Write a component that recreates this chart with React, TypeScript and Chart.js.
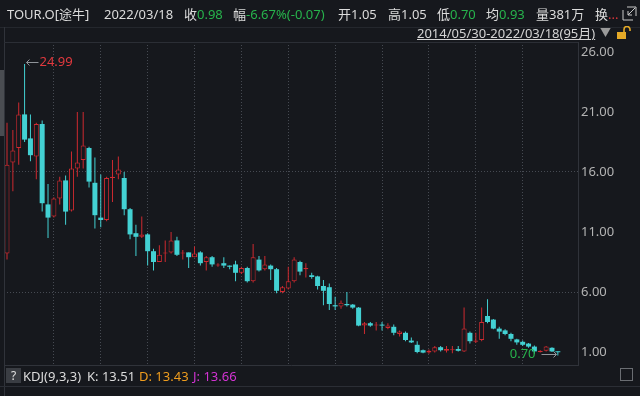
import React, { useEffect, useRef } from "react";
import { Chart, registerables } from "chart.js";

Chart.register(...registerables);

const BG = "#16181d";
const UP = "#cf2a30";
const DOWN = "#43d1d3";
const GRID = "#464a52";
const AXIS = "#30333a";
const GREEN = "#27b34c";
const TEXT = "#dcdcdc";
const FONT = '"Noto Sans", "Noto Sans CJK SC", sans-serif';

// Monthly candles 2014/05 .. 2022/03 (95 months)
const opens = [
  9.2, 16.8, 18.0, 20.8, 18.8, 17.3, 20.0, 13.3, 12.3, 13.8,
  15.3, 12.8, 16.3, 17.0, 18.0, 15.1, 12.2, 12.0, 15.5, 15.8,
  15.5, 12.9, 10.9, 10.6, 10.8, 9.4, 8.5, 9.2, 9.3, 10.3,
  9.2, 9.3, 8.9, 9.3, 8.5, 8.9, 8.2, 8.4, 8.2, 8.3,
  7.6, 8.0, 6.9, 8.7, 7.9, 8.2, 7.9, 6.0, 6.3, 6.9,
  8.5, 7.9, 7.4, 7.3, 6.5, 6.4, 4.9, 4.8, 5.0, 4.95,
  4.7, 3.2, 3.4, 3.2, 3.25, 3.0, 3.1, 2.5, 2.6, 1.95,
  1.6, 1.15, 0.95, 1.05, 1.4, 1.1, 1.15, 1.25, 1.05, 2.6,
  1.85, 2.0, 4.0, 3.7, 2.95, 2.8, 2.5, 2.05, 1.85, 1.7,
  1.45, 1.0, 1.1, 1.35, 1.05,
];
const highs = [
  20.1, 19.5, 21.8, 24.99, 20.8, 20.1, 20.3, 15.0, 13.9, 15.6,
  15.7, 17.7, 21.0, 21.0, 18.1, 17.2, 15.8, 15.6, 17.0, 17.3,
  16.0, 13.0, 11.6, 12.3, 10.9, 9.6, 9.9, 10.3, 11.0, 10.6,
  9.5, 9.3, 9.8, 9.4, 9.0, 9.0, 8.4, 8.9, 8.2, 8.6,
  8.1, 8.1, 10.0, 9.0, 9.0, 8.3, 8.0, 6.5, 8.1, 8.9,
  8.6, 8.4, 7.6, 7.35, 7.0, 6.7, 5.6, 5.3, 6.0, 5.0,
  4.75, 3.5, 3.5, 3.5, 3.5, 3.4, 3.3, 2.8, 2.7, 2.2,
  1.9, 1.2, 1.2, 1.5, 1.5, 1.5, 1.5, 1.5, 4.7, 2.7,
  2.6, 4.7, 5.4, 3.75, 3.1, 2.9, 2.6, 2.1, 1.95, 1.75,
  1.55, 1.15, 1.5, 1.4, 1.05,
];
const lows = [
  8.7, 14.4, 16.6, 18.5, 16.9, 15.4, 12.7, 10.5, 12.2, 13.3,
  11.6, 12.7, 15.6, 16.3, 14.7, 11.3, 11.4, 11.9, 13.5, 15.4,
  12.4, 10.4, 9.0, 10.5, 8.2, 7.8, 8.5, 8.5, 9.2, 9.0,
  8.7, 8.0, 8.9, 8.2, 7.8, 8.1, 8.1, 8.0, 7.9, 6.9,
  7.5, 6.8, 6.8, 7.7, 7.8, 7.0, 5.9, 5.9, 6.2, 6.8,
  7.4, 7.2, 7.1, 6.2, 4.9, 4.5, 4.5, 4.6, 4.8, 4.6,
  3.15, 2.5, 3.1, 2.8, 2.8, 2.9, 2.4, 2.3, 1.9, 1.75,
  0.9, 0.9, 0.85, 0.95, 1.05, 0.95, 0.9, 1.05, 1.0, 1.7,
  1.75, 1.9, 3.4, 2.9, 2.1, 2.4, 1.9, 1.6, 1.5, 1.35,
  0.85, 0.95, 1.05, 1.0, 0.70,
];
const closes = [
  16.6, 17.8, 20.8, 18.7, 17.4, 20.0, 13.4, 12.2, 13.8, 15.3,
  12.7, 16.3, 16.8, 18.2, 15.2, 12.4, 12.0, 15.5, 15.6, 16.2,
  12.9, 10.8, 10.6, 10.8, 9.4, 8.5, 9.1, 9.3, 10.3, 9.1,
  9.3, 8.9, 9.2, 8.4, 8.9, 8.3, 8.3, 8.2, 8.1, 7.6,
  8.0, 6.9, 8.9, 7.8, 8.3, 7.9, 6.1, 6.4, 6.9, 8.7,
  7.7, 8.0, 7.25, 6.5, 6.1, 5.0, 4.8, 5.1, 4.9, 4.7,
  3.2, 3.4, 3.2, 3.25, 3.2, 3.2, 2.6, 2.7, 2.0, 1.8,
  1.0, 0.95, 1.1, 1.4, 1.15, 1.25, 1.2, 1.1, 2.95, 1.9,
  1.95, 3.5, 3.5, 2.95, 2.7, 2.5, 2.1, 1.8, 1.6, 1.45,
  1.05, 1.1, 1.45, 1.05, 0.98,
];

const priceTicks = [1, 6, 11, 16, 21, 26];
const priceGridLines = [6, 16];
const monthGridLines = [8, 16, 24, 32, 40, 48, 56, 64, 72, 80, 88];

const isUp = (i: number) => closes[i] > opens[i];

const markerPlugin = {
  id: "hiLoMarkers",
  afterDatasetsDraw(chart: any) {
    const { ctx, scales } = chart;
    const xs = scales.x;
    const ys = scales.y;
    let hi = 0;
    let lo = 0;
    highs.forEach((v, i) => {
      if (v > highs[hi]) hi = i;
    });
    lows.forEach((v, i) => {
      if (v < lows[lo]) lo = i;
    });
    ctx.save();
    ctx.font = `13px ${FONT}`;
    ctx.textBaseline = "middle";
    // high marker
    const hx = Math.round(xs.getPixelForValue(hi)) + 0.5;
    const hy = Math.round(ys.getPixelForValue(highs[hi])) - 1.5;
    ctx.strokeStyle = "#8f9399";
    ctx.lineWidth = 1;
    ctx.beginPath();
    ctx.moveTo(hx + 1, hy);
    ctx.lineTo(hx + 13, hy);
    ctx.moveTo(hx + 4, hy - 3);
    ctx.lineTo(hx + 1, hy);
    ctx.lineTo(hx + 4, hy + 3);
    ctx.stroke();
    ctx.fillStyle = "#e2393e";
    ctx.textAlign = "left";
    ctx.fillText(highs[hi].toFixed(2), hx + 14, hy);
    // low marker
    const lx = Math.round(xs.getPixelForValue(lo)) + 0.5;
    const ly = Math.round(ys.getPixelForValue(lows[lo])) - 1.5;
    ctx.beginPath();
    ctx.moveTo(lx - 2, ly);
    ctx.lineTo(lx - 17, ly);
    ctx.moveTo(lx - 5, ly - 3);
    ctx.lineTo(lx - 2, ly);
    ctx.lineTo(lx - 5, ly + 3);
    ctx.stroke();
    ctx.fillStyle = GREEN;
    ctx.textAlign = "right";
    ctx.fillText(lows[lo].toFixed(2), lx - 23, ly);
    ctx.restore();
  },
};

const abs = (left: number, top: number, extra: any = {}) => ({
  position: "absolute" as const,
  left,
  top,
  whiteSpace: "nowrap" as const,
  ...extra,
});

export default function App() {
  const ref = useRef<HTMLCanvasElement | null>(null);

  useEffect(() => {
    if (!ref.current) return;
    const idx = opens.map((_, i) => i);
    const chart = new Chart(ref.current, {
      type: "bar",
      data: {
        datasets: [
          {
            label: "body",
            data: idx.map((i) => ({ x: i, y: [opens[i], closes[i]] })) as any,
            grouped: false,
            barThickness: 5,
            minBarLength: 1,
            borderSkipped: false,
            inflateAmount: 0,
            backgroundColor: (c: any) => (isUp(c.dataIndex) ? BG : DOWN),
            borderColor: (c: any) => (isUp(c.dataIndex) ? UP : DOWN),
            borderWidth: (c: any) => (isUp(c.dataIndex) ? 1 : 0),
            order: 1,
          } as any,
          {
            label: "wick",
            data: idx.map((i) => ({ x: i, y: [lows[i], highs[i]] })) as any,
            grouped: false,
            barThickness: 1,
            minBarLength: 1,
            borderWidth: 0,
            inflateAmount: 0,
            backgroundColor: (c: any) => (isUp(c.dataIndex) ? UP : DOWN),
            order: 2,
          } as any,
        ],
      },
      options: {
        responsive: false,
        animation: false,
        devicePixelRatio: 1,
        layout: { padding: { left: 4, top: 42, right: 0, bottom: 31 } },
        plugins: { legend: { display: false }, tooltip: { enabled: false } },
        scales: {
          x: {
            type: "linear",
            min: -0.512,
            max: 97.44,
            offset: false,
            grid: { offset: false, color: GRID, drawTicks: false, lineWidth: 1 },
            border: { display: true, color: AXIS, dash: [1, 2] },
            ticks: { display: false },
            afterBuildTicks: (s: any) => {
              s.ticks = monthGridLines.map((v) => ({ value: v }));
            },
            afterFit: (s: any) => {
              s.height = 0;
            },
          },
          y: {
            type: "linear",
            position: "right",
            min: -0.0833,
            max: 26.8333,
            grid: {
              drawTicks: false,
              lineWidth: 1,
              color: (c: any) =>
                c.tick && priceGridLines.includes(c.tick.value) ? GRID : "rgba(0,0,0,0)",
            },
            border: { display: true, color: AXIS, dash: [1, 2] },
            ticks: {
              color: "#b3b3b3",
              padding: 3,
              font: { family: FONT, size: 13 },
              callback: (v: any) => Number(v).toFixed(2),
            },
            afterBuildTicks: (s: any) => {
              s.ticks = priceTicks.map((v) => ({ value: v }));
            },
            afterFit: (s: any) => {
              s.width = 62;
            },
          },
        },
      } as any,
      plugins: [markerPlugin],
    });
    return () => chart.destroy();
  }, []);

  const hdr = { fontSize: 13, lineHeight: "16px", color: TEXT };

  return (
    <div
      style={{
        position: "fixed",
        left: 0,
        top: 0,
        width: 640,
        height: 396,
        background: BG,
        overflow: "hidden",
        fontFamily: FONT,
      }}
    >
      <canvas ref={ref} width={640} height={396} style={{ position: "absolute", left: 0, top: 0 }} />
      {/* frame lines */}
      <div style={abs(0, 27, { width: 640, height: 1, background: "#24272d" })} />
      <div style={abs(4, 27, { width: 1, height: 369, background: AXIS })} />
      <div style={abs(4, 42, { width: 574, height: 1, background: "#2b2e35" })} />
      <div style={abs(0, 70, { width: 4, height: 66, background: "#4a4d52" })} />
      <div style={abs(0, 386, { width: 640, height: 1, background: "#2b2e35" })} />

      {/* header */}
      <div style={abs(7, 6, hdr)}>TOUR.O[途牛]</div>
      <div style={abs(104, 6, hdr)}>2022/03/18</div>
      <div style={abs(184, 6, hdr)}>
        收<span style={{ color: GREEN }}>0.98</span>
      </div>
      <div style={abs(233, 6, hdr)}>
        幅<span style={{ color: GREEN }}>-6.67%(-0.07)</span>
      </div>
      <div style={abs(338, 6, hdr)}>开1.05</div>
      <div style={abs(388, 6, hdr)}>高1.05</div>
      <div style={abs(437, 6, hdr)}>
        低<span style={{ color: GREEN }}>0.70</span>
      </div>
      <div style={abs(486, 6, hdr)}>
        均<span style={{ color: GREEN }}>0.93</span>
      </div>
      <div style={abs(536, 6, hdr)}>量381万</div>
      <div style={abs(595, 6, hdr)}>
        换<span style={{ color: "#d9363b" }}>...</span>
      </div>
      <svg style={abs(622, 6)} width={15} height={15} viewBox="0 0 15 15">
        <path d="M1 4 V14 H11" fill="none" stroke="#c8c8c8" strokeWidth={1} />
        <path d="M5 1 H14 V10" fill="none" stroke="#c8c8c8" strokeWidth={1} />
        <path d="M13 2 L6 9 M6 5 V9 H10" fill="none" stroke="#c8c8c8" strokeWidth={1} />
      </svg>

      {/* date range */}
      <div style={abs(417, 25, { ...hdr, color: "#d4d4d4", textDecoration: "underline" })}>
        2014/05/30-2022/03/18(95月)
      </div>
      <div style={abs(600, 25, { ...hdr, color: "#9a9a9a", fontSize: 11 })}>▼</div>
      <svg style={abs(616, 26)} width={15} height={14} viewBox="0 0 15 14">
        <rect x={1} y={6} width={9} height={7} fill="#e4a927" />
        <path d="M8 6 V3.5 A3 3 0 0 1 14 3.5 V5" fill="none" stroke="#e4a927" strokeWidth={1.6} />
      </svg>

      {/* KDJ row */}
      <div
        style={abs(6, 368, {
          width: 15,
          height: 15,
          background: "#3a3d43",
          color: "#e0e0e0",
          fontSize: 12,
          lineHeight: "15px",
          textAlign: "center",
        })}
      >
        ?
      </div>
      <div style={abs(23, 368, { ...hdr })}>KDJ(9,3,3)</div>
      <div style={abs(87, 368, { ...hdr })}>K: 13.51</div>
      <div style={abs(139, 368, { ...hdr, color: "#ef9d1e" })}>D: 13.43</div>
      <div style={abs(193, 368, { ...hdr, color: "#d233d2" })}>J: 13.66</div>
      <div style={abs(620, 368, { width: 13, height: 13, border: "1px solid #6a6d72", boxSizing: "border-box" })} />
    </div>
  );
}
